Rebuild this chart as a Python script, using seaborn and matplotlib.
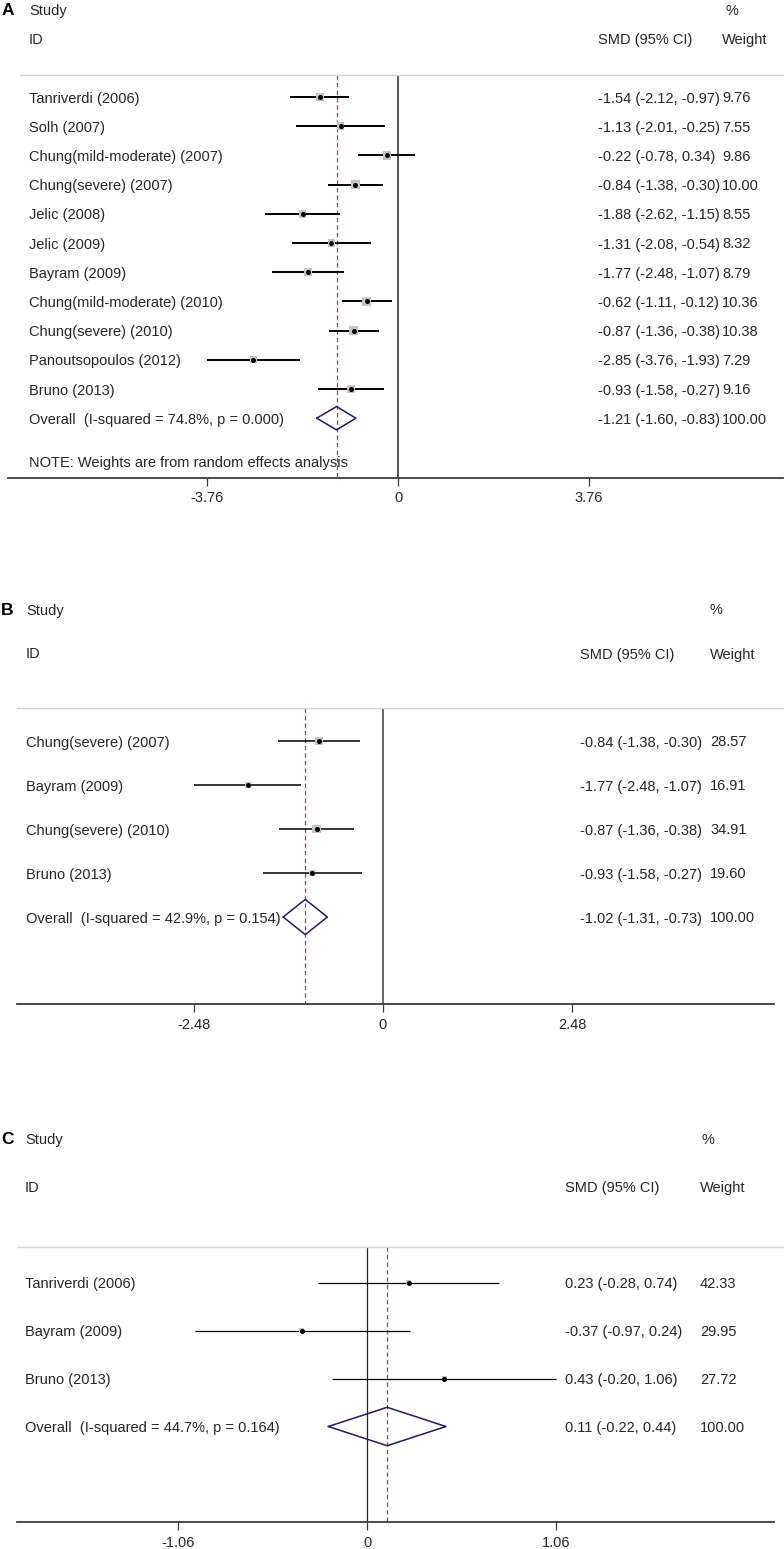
import matplotlib
matplotlib.use("Agg")
import matplotlib.pyplot as plt
import matplotlib.transforms as mtransforms
import numpy as np
import pandas as pd
import seaborn as sns

# ---- panel A ----
a_study = ["Tanriverdi (2006)", "Solh (2007)", "Chung(mild-moderate) (2007)",
           "Chung(severe) (2007)", "Jelic (2008)", "Jelic (2009)", "Bayram (2009)",
           "Chung(mild-moderate) (2010)", "Chung(severe) (2010)",
           "Panoutsopoulos (2012)", "Bruno (2013)"]
a_smd = [-1.54, -1.13, -0.22, -0.84, -1.88, -1.31, -1.77, -0.62, -0.87, -2.85, -0.93]
a_lo = [-2.12, -2.01, -0.78, -1.38, -2.62, -2.08, -2.48, -1.11, -1.36, -3.76, -1.58]
a_hi = [-0.97, -0.25, 0.34, -0.30, -1.15, -0.54, -1.07, -0.12, -0.38, -1.93, -0.27]
a_weight = [9.76, 7.55, 9.86, 10.00, 8.55, 8.32, 8.79, 10.36, 10.38, 7.29, 9.16]
a_pooled = [-1.21, -1.60, -0.83]
a_het = "Overall  (I-squared = 74.8%, p = 0.000)"
a_tick = 3.76

# ---- panel B ----
b_study = ["Chung(severe) (2007)", "Bayram (2009)", "Chung(severe) (2010)", "Bruno (2013)"]
b_smd = [-0.84, -1.77, -0.87, -0.93]
b_lo = [-1.38, -2.48, -1.36, -1.58]
b_hi = [-0.30, -1.07, -0.38, -0.27]
b_weight = [28.57, 16.91, 34.91, 19.60]
b_pooled = [-1.02, -1.31, -0.73]
b_het = "Overall  (I-squared = 42.9%, p = 0.154)"
b_tick = 2.48

# ---- panel C ----
c_study = ["Tanriverdi (2006)", "Bayram (2009)", "Bruno (2013)"]
c_smd = [0.23, -0.37, 0.43]
c_lo = [-0.28, -0.97, -0.20]
c_hi = [0.74, 0.24, 1.06]
c_weight = [42.33, 29.95, 27.72]
c_pooled = [0.11, -0.22, 0.44]
c_het = "Overall  (I-squared = 44.7%, p = 0.164)"
c_tick = 1.06

note = "NOTE: Weights are from random effects analysis"

W, H = 784, 1549
sns.set_theme(style="white")
plt.rcParams["font.family"] = ["Liberation Sans", "DejaVu Sans"]

FS = 10.5
fig = plt.figure(figsize=(W / 100, H / 100), dpi=100)


def fmt(v):
    return f"{v:.2f}"


def panel(letter, study, smd, lo, hi, weight, pooled, het, tick, lay, note_text=None):
    first, step, axis_px, top_px = lay["first"], lay["step"], lay["axis"], lay["top"]
    xl, xr, zero, scale = lay["xl"], lay["xr"], lay["zero"], lay["scale"]
    ax = fig.add_axes([xl / W, 1 - axis_px / H, (xr - xl) / W, (axis_px - top_px) / H])
    ax.set_xlim((xl - zero) / scale, (xr - zero) / scale)
    ax.set_ylim((axis_px - first) / step, (top_px - first) / step)
    ax.patch.set_alpha(0)
    tr = mtransforms.blended_transform_factory(fig.transFigure, ax.transData)
    va = "center_baseline"

    n = len(study)
    df = pd.DataFrame({"study": study, "smd": smd, "lo": lo, "hi": hi,
                       "weight": weight, "row": np.arange(n)})
    ov = n
    ybot = (axis_px - first) / step

    # header
    fx = lambda px: px / W
    ax.text(fx(lay["letter_x"]), -3, letter, transform=tr, fontsize=12.5,
            fontweight="bold", va=va, ha="left", color="black")
    ax.text(fx(lay["lab_x"]), -3, "Study", transform=tr, fontsize=FS, va=va)
    ax.text(fx(lay["lab_x"]), -2, "ID", transform=tr, fontsize=FS, va=va)
    ax.text(fx(lay["pct_x"]), -3, "%", transform=tr, fontsize=FS, va=va)
    ax.text(fx(lay["ci_x"]), -2, "SMD (95% CI)", transform=tr, fontsize=FS, va=va)
    ax.text(fx(lay["w_x"]), -2, "Weight", transform=tr, fontsize=FS, va=va)
    ax.plot([fx(lay["sep_x"]), 1], [-0.75, -0.75], transform=tr, color="#d4d4d4",
            lw=1.0, clip_on=False)

    # reference lines
    ax.vlines(0, -0.75, ybot, color=lay["zero_col"], lw=lay["zero_lw"], zorder=1)
    ax.vlines(pooled[0], -0.75, ybot, color="#b5364a", lw=0.9,
              linestyles=(0, (3.5, 2.5)), zorder=1)

    # study rows
    ax.hlines(df["row"], df["lo"], df["hi"], color="black", lw=lay["ci_lw"], zorder=2)
    box_px = lay["box_k"] * np.sqrt(df["weight"].to_numpy())
    sns.scatterplot(data=df, x="smd", y="row", marker="s", color="#c4c4c4",
                    s=(box_px * 0.72) ** 2, linewidth=0, legend=False, ax=ax, zorder=3)
    sns.scatterplot(data=df, x="smd", y="row", marker="o", color="black",
                    s=13, linewidth=0, legend=False, ax=ax, zorder=4)

    for r, s_, m, l, h, w in zip(df["row"], study, smd, lo, hi, weight):
        ax.text(fx(lay["lab_x"]), r, s_, transform=tr, fontsize=FS, va=va)
        ax.text(fx(lay["ci_x"]), r, f"{fmt(m)} ({fmt(l)}, {fmt(h)})", transform=tr,
                fontsize=FS, va=va)
        ax.text(fx(lay["w_x"]), r, fmt(w), transform=tr, fontsize=FS, va=va)

    # pooled diamond
    est, plo, phi = pooled
    ax.plot([plo, est, phi, est, plo], [ov, ov - 0.4, ov, ov + 0.4, ov],
            color="#1c1c6b", lw=1.1, zorder=5)
    ax.text(fx(lay["lab_x"]), ov, het, transform=tr, fontsize=FS, va=va)
    ax.text(fx(lay["ci_x"]), ov, f"{fmt(est)} ({fmt(plo)}, {fmt(phi)})", transform=tr,
            fontsize=FS, va=va)
    ax.text(fx(lay["w_x"]), ov, "100.00", transform=tr, fontsize=FS, va=va)
    if note_text:
        ax.text(fx(lay["lab_x"]), ov + 1.5, note_text, transform=tr, fontsize=FS, va=va)

    # axis
    for side in ["top", "left", "right"]:
        ax.spines[side].set_visible(False)
    ax.spines["bottom"].set_color("#3c3c3c")
    ax.spines["bottom"].set_linewidth(1.3)
    ax.set_xticks([-tick, 0, tick])
    ax.set_xticklabels([f"-{tick:.2f}", "0", f"{tick:.2f}"])
    ax.tick_params(axis="x", direction="out", length=5.5, width=0.9, color="#3c3c3c",
                   labelsize=FS, pad=4.5, bottom=True)
    ax.set_yticks([])
    ax.set_xlabel("")
    ax.set_ylabel("")
    ax.grid(False)
    return ax


lay_a = dict(first=97, step=29.2, axis=477.5, top=0, xl=8, xr=783, zero=398,
             scale=191 / 3.76, letter_x=2, lab_x=29, ci_x=598, w_x=722, pct_x=725,
             sep_x=20, zero_col="#4a4a4a", zero_lw=1.3, ci_lw=1.4, box_k=2.7)
lay_b = dict(first=741, step=44, axis=1004, top=590, xl=17, xr=774, zero=383,
             scale=189 / 2.48, letter_x=1, lab_x=26, ci_x=580, w_x=710, pct_x=710,
             sep_x=17, zero_col="#4a4a4a", zero_lw=1.2, ci_lw=1.1, box_k=1.5)
lay_c = dict(first=1282.5, step=48, axis=1522, top=1110, xl=17, xr=774, zero=367.5,
             scale=189 / 1.06, letter_x=1, lab_x=25, ci_x=565, w_x=700, pct_x=701,
             sep_x=17, zero_col="#222222", zero_lw=0.9, ci_lw=0.9, box_k=0.9)

panel("A", a_study, a_smd, a_lo, a_hi, a_weight, a_pooled, a_het, a_tick, lay_a, note)
panel("B", b_study, b_smd, b_lo, b_hi, b_weight, b_pooled, b_het, b_tick, lay_b)
panel("C", c_study, c_smd, c_lo, c_hi, c_weight, c_pooled, c_het, c_tick, lay_c)

fig.savefig("out.png", dpi=100)
